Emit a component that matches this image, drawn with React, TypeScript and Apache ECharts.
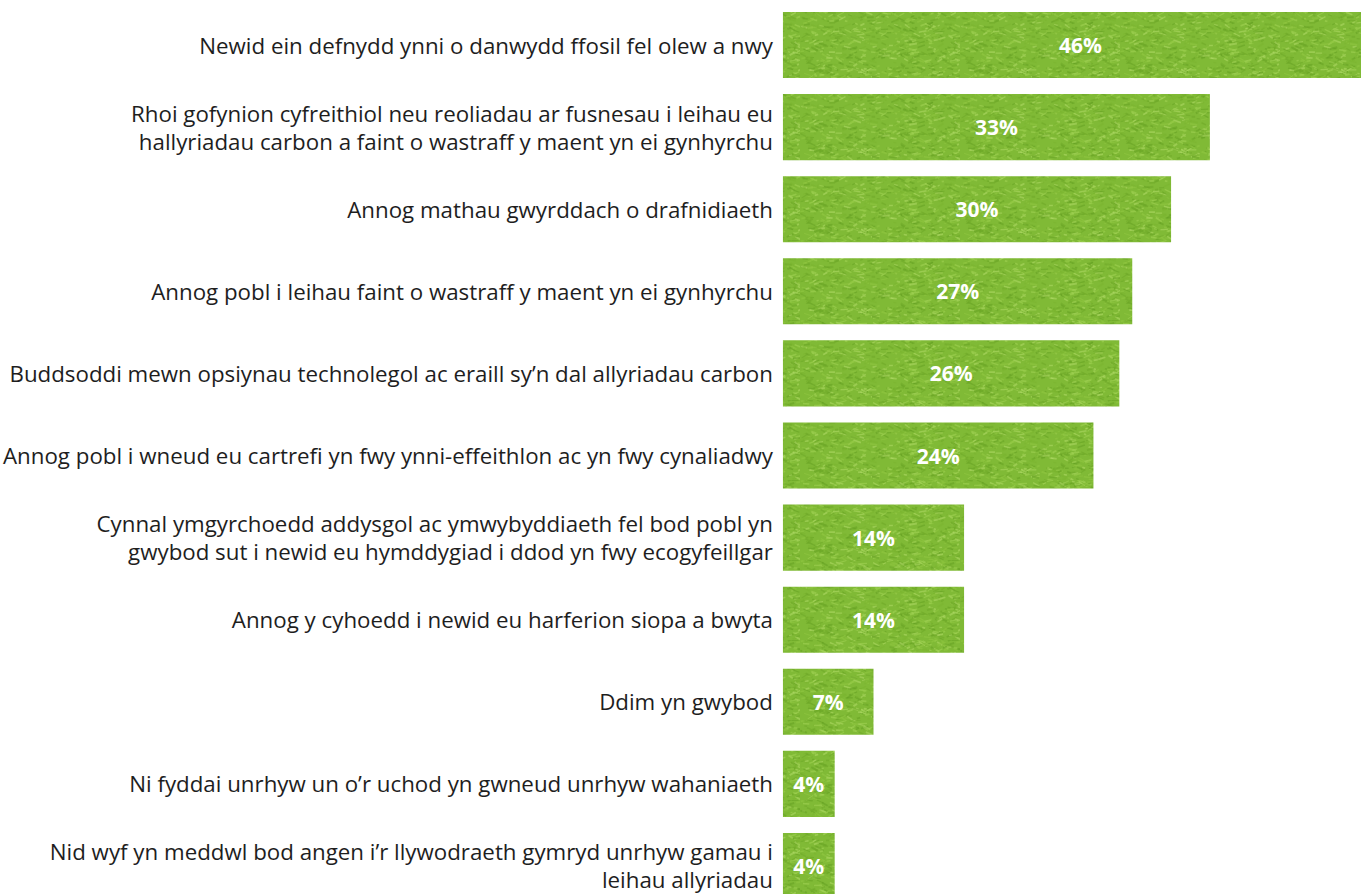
import React, { useEffect, useRef } from "react";
import * as echarts from "echarts";

const categories: string[] = [
  "Newid ein defnydd ynni o danwydd ffosil fel olew a nwy",
  "Rhoi gofynion cyfreithiol neu reoliadau ar fusnesau i leihau eu\nhallyriadau carbon a faint o wastraff y maent yn ei gynhyrchu",
  "Annog mathau gwyrddach o drafnidiaeth",
  "Annog pobl i leihau faint o wastraff y maent yn ei gynhyrchu",
  "Buddsoddi mewn opsiynau technolegol ac eraill sy’n dal allyriadau carbon",
  "Annog pobl i wneud eu cartrefi yn fwy ynni-effeithlon ac yn fwy cynaliadwy",
  "Cynnal ymgyrchoedd addysgol ac ymwybyddiaeth fel bod pobl yn\ngwybod sut i newid eu hymddygiad i ddod yn fwy ecogyfeillgar",
  "Annog y cyhoedd i newid eu harferion siopa a bwyta",
  "Ddim yn gwybod",
  "Ni fyddai unrhyw un o’r uchod yn gwneud unrhyw wahaniaeth",
  "Nid wyf yn meddwl bod angen i’r llywodraeth gymryd unrhyw gamau i\nleihau allyriadau",
];

const values: number[] = [46, 33, 30, 27, 26, 24, 14, 14, 7, 4, 4];

// Decorative grass-like texture (deterministic hash, not data)
function makeGrassTexture(): string | null {
  try {
    const c = document.createElement("canvas");
    c.width = 160;
    c.height = 80;
    const ctx = c.getContext("2d");
    if (!ctx) return null;
    ctx.fillStyle = "#80ba36";
    ctx.fillRect(0, 0, c.width, c.height);
    let s = 12345;
    const next = () => {
      s = (s * 1103515245 + 12345) & 0x7fffffff;
      return s / 0x7fffffff;
    };
    const palette = ["#6ea828", "#8fc742", "#a3d356", "#64a022", "#b0da68", "#7ab430"];
    for (let i = 0; i < 900; i++) {
      const x = next() * c.width;
      const y = next() * c.height;
      const len = 2 + next() * 6;
      const ang = (next() - 0.5) * 1.2;
      ctx.strokeStyle = palette[Math.floor(next() * palette.length)];
      ctx.globalAlpha = 0.55;
      ctx.lineWidth = 1 + next();
      ctx.beginPath();
      ctx.moveTo(x, y);
      ctx.lineTo(x + Math.cos(ang) * len, y + Math.sin(ang) * len);
      ctx.stroke();
    }
    ctx.globalAlpha = 1;
    return c.toDataURL("image/png");
  } catch (e) {
    return null;
  }
}

export default function App() {
  const ref = useRef<HTMLDivElement>(null);
  useEffect(() => {
    if (!ref.current) return;
    const chart = echarts.init(ref.current, null, { renderer: "svg" });
    const tex = makeGrassTexture();
    const barColor: any = tex ? { image: tex, repeat: "repeat" } : "#80ba36";
    chart.setOption({
      animation: false,
      grid: { left: 782, top: 4, right: 0, height: 903, containLabel: false },
      xAxis: {
        type: "value",
        min: 0,
        max: 44.68,
        show: false,
      },
      yAxis: {
        type: "category",
        inverse: true,
        data: categories,
        axisLine: { show: false },
        axisTick: { show: false },
        splitLine: { show: false },
        axisLabel: {
          margin: 10,
          fontFamily: "Open Sans",
          fontSize: 22.3,
          lineHeight: 28,
          color: "#1e1e1e",
          align: "right",
        },
      },
      series: [
        {
          type: "bar",
          data: values,
          clip: false,
          barCategoryGap: "19.5%",
          itemStyle: { color: barColor },
          label: {
            show: true,
            position: "inside",
            formatter: "{c}%",
            color: "#ffffff",
            fontFamily: "Open Sans",
            fontWeight: "bold",
            fontSize: 21,
          },
        },
      ],
    });
    return () => chart.dispose();
  }, []);
  return (
    <div style={{ position: "absolute", left: 0, top: 0, width: 1361, height: 894, overflow: "hidden", background: "#fff" }}>
      <div ref={ref} style={{ width: 1361, height: 912 }} />
    </div>
  );
}
